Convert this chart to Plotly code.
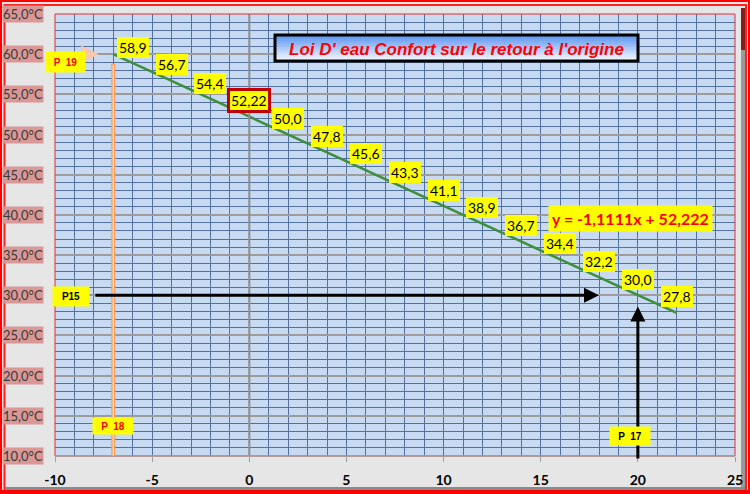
import plotly.graph_objects as go

# ---------------- data ----------------
x_line = [-7, 22]
y_line = [60.0, 27.8]
x_pts = [-6, -4, -2, 0, 2, 4, 6, 8, 10, 12, 14, 16, 18, 20, 22]
y_pts = [58.9, 56.7, 54.4, 52.22, 50.0, 47.8, 45.6, 43.3, 41.1, 38.9, 36.7, 34.4, 32.2, 30.0, 27.8]
pt_labels = ["58,9", "56,7", "54,4", "52,22", "50,0", "47,8", "45,6", "43,3",
             "41,1", "38,9", "36,7", "34,4", "32,2", "30,0", "27,8"]
y_ticks = [10, 15, 20, 25, 30, 35, 40, 45, 50, 55, 60, 65]
y_tick_labels = ["10,0°C", "15,0°C", "20,0°C", "25,0°C", "30,0°C", "35,0°C",
                 "40,0°C", "45,0°C", "50,0°C", "55,0°C", "60,0°C", "65,0°C"]
x_ticks = [-10, -5, 0, 5, 10, 15, 20, 25]
x_tick_labels = ["-10", "-5", "0", "5", "10", "15", "20", "25"]
equation = "y = -1,1111x + 52,222"
title_text = "Loi D' eau Confort sur le retour à l'origine"
highlight_label = "52,22"

# ---------------- layout geometry ----------------
W, H = 750, 494
L, R, T, B = 55, 15, 14, 38
PW, PH = W - L - R, H - T - B


def px(xpix):
    return (xpix - L) / PW


def py(ypix):
    return (H - B - ypix) / PH


YELLOW = "#FFFF00"
FONT = "Lato"

fig = go.Figure()
fig.add_trace(go.Scatter(x=x_line, y=y_line, mode="lines",
                         line=dict(color="#3E8E3A", width=2.5),
                         hoverinfo="skip", showlegend=False))

shapes = []
annotations = []

# outer frame
shapes.append(dict(type="rect", xref="paper", yref="paper",
                   x0=px(1), x1=px(749), y0=py(493), y1=py(1),
                   line=dict(color="#FF0000", width=2), layer="below"))
shapes.append(dict(type="rect", xref="paper", yref="paper",
                   x0=px(4.5), x1=px(746), y0=py(489), y1=py(5),
                   line=dict(color="#FF2020", width=2), layer="below"))
shapes.append(dict(type="rect", xref="paper", yref="paper",
                   x0=px(0), x1=px(750), y0=py(494), y1=py(490),
                   fillcolor="#FF0000", line=dict(width=0), layer="below"))
shapes.append(dict(type="rect", xref="paper", yref="paper",
                   x0=px(5), x1=px(745), y0=py(490), y1=py(487),
                   fillcolor="#8A8A8A", line=dict(width=0), layer="below"))
shapes.append(dict(type="rect", xref="paper", yref="paper",
                   x0=px(741), x1=px(745), y0=py(487), y1=py(50),
                   fillcolor="#9A9A9A", line=dict(width=0), layer="below"))
shapes.append(dict(type="rect", xref="paper", yref="paper",
                   x0=px(741), x1=px(745), y0=py(50), y1=py(8),
                   fillcolor="#8B1A1A", line=dict(width=0), layer="below"))

# y tick labels on pink backgrounds
for yv, lab in zip(y_ticks, y_tick_labels):
    annotations.append(dict(x=px(44), y=yv, xref="paper", yref="y",
                            text=lab, showarrow=False, xanchor="right",
                            yanchor="middle", bgcolor="#D99795", borderpad=0,
                            font=dict(family=FONT, size=13, color="#3A3A3A")))

# vertical axis at x = 0
shapes.append(dict(type="line", xref="x", yref="y", x0=0, x1=0, y0=10, y1=65,
                   line=dict(color="#8C8C8C", width=2)))
# plot border (red thin)
shapes.append(dict(type="rect", xref="paper", yref="paper", x0=0, x1=1, y0=0, y1=1,
                   line=dict(color="#E03030", width=1)))
shapes.append(dict(type="line", xref="paper", yref="paper", x0=0, x1=1, y0=0, y1=0,
                   line=dict(color="#A0A0A0", width=1.5)))

# orange vertical line (P18)
shapes.append(dict(type="line", xref="x", yref="y", x0=-7, x1=-7, y0=10, y1=58.8,
                   line=dict(color="#F2A060", width=4)))
shapes.append(dict(type="line", xref="x", yref="y", x0=-7, x1=-7, y0=10.1, y1=58.7,
                   line=dict(color="#FCD2AE", width=1.5)))

# title box with gradient
tx0, tx1, ty0, ty1 = 275, 638, 35, 61
n = 13
for i in range(n):
    f = i / (n - 1)
    r = int(95 + (245 - 95) * f)
    g = int(150 + (248 - 150) * f)
    b = int(240 + (252 - 240) * f)
    shapes.append(dict(type="rect", xref="paper", yref="paper",
                       x0=px(tx0), x1=px(tx1),
                       y0=py(ty0 + (ty1 - ty0) * (i + 1) / n),
                       y1=py(ty0 + (ty1 - ty0) * i / n),
                       fillcolor=f"rgb({r},{g},{b})", line=dict(width=0)))
shapes.append(dict(type="rect", xref="paper", yref="paper",
                   x0=px(tx0), x1=px(tx1), y0=py(ty1), y1=py(ty0),
                   line=dict(color="#000000", width=3)))
annotations.append(dict(x=px((tx0 + tx1) / 2), y=py((ty0 + ty1) / 2 + 1),
                        xref="paper", yref="paper", showarrow=False,
                        xanchor="center", yanchor="middle",
                        text=f"<b><i>{title_text}</i></b>",
                        font=dict(family="Liberation Sans", size=17, color="#FF0000")))

# data labels
for xv, yv, lab in zip(x_pts, y_pts, pt_labels):
    hl = lab == highlight_label
    annotations.append(dict(x=xv, y=yv, xref="x", yref="y", text=lab,
                            showarrow=False, yshift=16, bgcolor=YELLOW,
                            borderpad=2 if not hl else 1,
                            bordercolor="#C00000" if hl else YELLOW,
                            borderwidth=3 if hl else 0,
                            font=dict(family=FONT, size=14, color="#000000")))

# equation
annotations.append(dict(x=19.64, y=39.5, xref="x", yref="y",
                        text=f"<b>{equation}</b>", showarrow=False,
                        bgcolor=YELLOW, borderpad=3,
                        font=dict(family=FONT, size=16, color="#FF0000")))

# arrows
annotations.append(dict(x=18, y=30, ax=-8, ay=30, xref="x", yref="y",
                        axref="x", ayref="y", text="", showarrow=True,
                        arrowhead=2, arrowsize=1, arrowwidth=3, arrowcolor="#000000"))
annotations.append(dict(x=20, y=28.6, ax=20, ay=9.5, xref="x", yref="y",
                        axref="x", ayref="y", text="", showarrow=True,
                        arrowhead=2, arrowsize=1, arrowwidth=3, arrowcolor="#000000"))
annotations.append(dict(x=-7.75, y=60, ax=-8.45, ay=60, xref="x", yref="y",
                        axref="x", ayref="y", text="", showarrow=True,
                        arrowhead=2, arrowsize=0.7, arrowwidth=5, arrowcolor="#F8C8A8"))

# P labels
plabels = [
    ("P  19", -9.46, 59.0, 39, 20, "#FF0000"),
    ("P  18", -7.0, 13.76, 40, 16, "#FF0000"),
    ("P15", -9.18, 29.86, 36, 19, "#000000"),
    ("P  17", 19.59, 12.51, 40, 18, "#000000"),
]
for txt, xv, yv, w, h, col in plabels:
    annotations.append(dict(x=xv, y=yv, xref="x", yref="y", text=f"<b>{txt}</b>",
                            showarrow=False, bgcolor=YELLOW, width=w, height=h,
                            borderpad=0, xanchor="center", yanchor="middle",
                            font=dict(family="Liberation Sans", size=10, color=col)))

fig.update_layout(
    width=W, height=H,
    margin=dict(l=L, r=R, t=T, b=B, autoexpand=False),
    paper_bgcolor="#E6E6E6",
    plot_bgcolor="#C7DAF2",
    showlegend=False,
    shapes=shapes,
    annotations=annotations,
    xaxis=dict(range=[-10, 25], tickvals=x_ticks,
               ticktext=[f"<b>{t}</b>" for t in x_tick_labels],
               tickfont=dict(family=FONT, size=14, color="#000000"),
               ticks="outside", ticklen=5, tickcolor="#A0A0A0",
               ticklabelstandoff=6, automargin=False,
               showgrid=True, gridcolor="#52719E", gridwidth=1,
               minor=dict(dtick=1, showgrid=True, gridcolor="#52719E", gridwidth=1),
               zeroline=False, showline=False, fixedrange=True),
    yaxis=dict(range=[10, 65], tickvals=y_ticks, showticklabels=False,
               ticks="", showgrid=True, gridcolor="#9C9C9C", gridwidth=2,
               automargin=False,
               minor=dict(dtick=1, showgrid=True, gridcolor="#52719E", gridwidth=1),
               zeroline=False, showline=False, fixedrange=True),
)

fig.write_html("out.html",
               config={"displayModeBar": False},
               post_script="document.body.style.margin='0';"
                           "document.body.style.overflow='hidden';")
